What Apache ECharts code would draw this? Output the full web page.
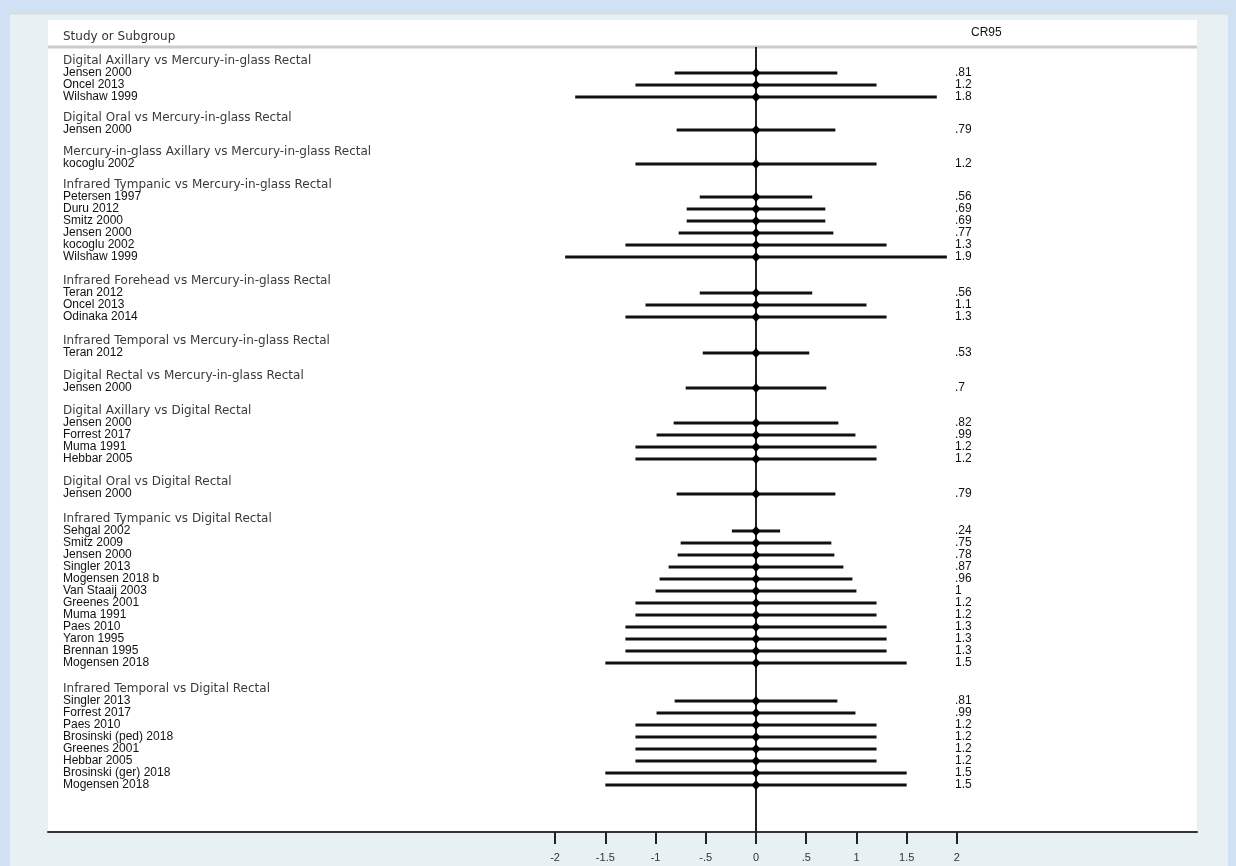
<!DOCTYPE html>
<html>
<head>
<meta charset="utf-8">
<script src="https://cdn.jsdelivr.net/npm/echarts@6/dist/echarts.min.js"></script>
<style>
html,body{margin:0;padding:0;background:#cfe1f3;}
#chart{width:1236px;height:866px;}
</style>
</head>
<body>
<div id="chart"></div>
<script>
// ---- data ----
const groupTitles = [
  'Digital Axillary vs Mercury-in-glass Rectal',
  'Digital Oral vs Mercury-in-glass Rectal',
  'Mercury-in-glass Axillary vs Mercury-in-glass Rectal',
  'Infrared Tympanic vs Mercury-in-glass Rectal',
  'Infrared Forehead vs Mercury-in-glass Rectal',
  'Infrared Temporal vs Mercury-in-glass Rectal',
  'Digital Rectal vs Mercury-in-glass Rectal',
  'Digital Axillary vs Digital Rectal',
  'Digital Oral vs Digital Rectal',
  'Infrared Tympanic vs Digital Rectal',
  'Infrared Temporal vs Digital Rectal'
];
const groupSizes = [3, 1, 1, 6, 3, 1, 1, 4, 1, 12, 8];
const studies = [
  'Jensen 2000', 'Oncel 2013', 'Wilshaw 1999',
  'Jensen 2000',
  'kocoglu 2002',
  'Petersen 1997', 'Duru 2012', 'Smitz 2000', 'Jensen 2000', 'kocoglu 2002', 'Wilshaw 1999',
  'Teran 2012', 'Oncel 2013', 'Odinaka 2014',
  'Teran 2012',
  'Jensen 2000',
  'Jensen 2000', 'Forrest 2017', 'Muma 1991', 'Hebbar 2005',
  'Jensen 2000',
  'Sehgal 2002', 'Smitz 2009', 'Jensen 2000', 'Singler 2013', 'Mogensen 2018 b', 'Van Staaij 2003',
  'Greenes 2001', 'Muma 1991', 'Paes 2010', 'Yaron 1995', 'Brennan 1995', 'Mogensen 2018',
  'Singler 2013', 'Forrest 2017', 'Paes 2010', 'Brosinski (ped) 2018', 'Greenes 2001', 'Hebbar 2005',
  'Brosinski (ger) 2018', 'Mogensen 2018'
];
const cr95 = [
  0.81, 1.2, 1.8,
  0.79,
  1.2,
  0.56, 0.69, 0.69, 0.77, 1.3, 1.9,
  0.56, 1.1, 1.3,
  0.53,
  0.7,
  0.82, 0.99, 1.2, 1.2,
  0.79,
  0.24, 0.75, 0.78, 0.87, 0.96, 1, 1.2, 1.2, 1.3, 1.3, 1.3, 1.5,
  0.81, 0.99, 1.2, 1.2, 1.2, 1.2, 1.5, 1.5
];
const xTicks = [-2, -1.5, -1, -0.5, 0, 0.5, 1, 1.5, 2];
const headerLeft = 'Study or Subgroup';
const headerRight = 'CR95';

// ---- layout (rows of 12px) ----
const ROW = 12, GRID_TOP = 47, GRID_BOTTOM_Y = 832, GRID_LEFT = 48, GRID_RIGHT_X = 1197;
const ZERO_X = 756, PX_PER_UNIT = 100.45;
const FIRST_HEADER_PX = 61;
// blank space (px) between the last study of a group and the next group heading
const groupGapPx = [21, 22, 21, 24, 24, 23, 23, 23, 25, 26];
const yMax = (GRID_BOTTOM_Y - GRID_TOP) / ROW;
const xMin = -(ZERO_X - GRID_LEFT) / PX_PER_UNIT;
const xMax = (GRID_RIGHT_X - ZERO_X) / PX_PER_UNIT;

const headerData = [], studyData = [];
let pos = (FIRST_HEADER_PX - GRID_TOP) / ROW, k = 0;
groupSizes.forEach((n, g) => {
  if (g > 0) pos += groupGapPx[g - 1] / ROW - 1;
  headerData.push([0, pos, g]);
  pos += 1;
  for (let i = 0; i < n; i++) { studyData.push([cr95[k], pos, k]); k++; pos += 1; }
});

function fmt(v) { return String(v).replace(/^(-?)0\./, '$1.'); }

const chart = echarts.init(document.getElementById('chart'), null, {renderer: 'canvas'});
chart.setOption({
  animation: false,
  backgroundColor: '#cfe1f3',
  graphic: [
    {type: 'rect', shape: {x: 10, y: 13, width: 1218, height: 860}, style: {fill: '#e7f0f2'}, z: -10},
    {type: 'line', shape: {x1: 10, y1: 13.5, x2: 1228, y2: 13.5}, style: {stroke: '#d8dcdc', lineWidth: 2}, z: -9},
    {type: 'rect', shape: {x: GRID_LEFT, y: 20, width: GRID_RIGHT_X - GRID_LEFT, height: GRID_BOTTOM_Y - 20}, style: {fill: '#ffffff'}, z: -8},
    {type: 'line', shape: {x1: GRID_LEFT, y1: 47, x2: GRID_RIGHT_X, y2: 47}, style: {stroke: '#cccccc', lineWidth: 3}, z: -7},
    {type: 'text', x: 63, y: 37, style: {text: headerLeft, font: '12px "DejaVu Sans"', fill: '#333', verticalAlign: 'middle'}},
    {type: 'text', x: 971, y: 33, style: {text: headerRight, font: '12px "Liberation Sans", Arial', fill: '#111', verticalAlign: 'middle'}}
  ],
  grid: {left: GRID_LEFT, right: 1236 - GRID_RIGHT_X, top: GRID_TOP, bottom: 866 - GRID_BOTTOM_Y, containLabel: false},
  xAxis: {
    type: 'value', min: xMin, max: xMax, position: 'bottom',
    splitLine: {show: false},
    axisLine: {show: true, onZero: false, lineStyle: {color: '#333', width: 2}},
    axisTick: {show: true, inside: false, length: 12, customValues: xTicks, lineStyle: {color: '#222', width: 2}},
    axisLabel: {customValues: xTicks, formatter: v => fmt(v), margin: 20, color: '#333',
      fontFamily: '"Liberation Sans", Arial', fontSize: 11}
  },
  yAxis: {type: 'value', inverse: true, min: 0, max: yMax, show: false, splitLine: {show: false}},
  series: [
    {
      type: 'line', data: [[0, 0], [0, yMax]], symbol: 'none', silent: true,
      lineStyle: {color: '#222', width: 2}, z: 1
    },
    {
      type: 'custom', z: 2,
      data: studyData,
      renderItem: function (params, api) {
        const ci = api.value(0), y = api.value(1), idx = api.value(2);
        const a = api.coord([-ci, y]), b = api.coord([ci, y]), c = api.coord([0, y]);
        const cs = params.coordSys;
        return {
          type: 'group',
          children: [
            {type: 'line', shape: {x1: a[0], y1: a[1], x2: b[0], y2: b[1]}, style: {stroke: '#111', lineWidth: 3}},
            {type: 'polygon', shape: {points: [[c[0] - 4.5, c[1]], [c[0], c[1] - 5], [c[0] + 4.5, c[1]], [c[0], c[1] + 5]]}, style: {fill: '#000'}},
            {type: 'text', x: cs.x + 15, y: c[1], style: {text: studies[idx], font: '12px "Liberation Sans", Arial', fill: '#111', verticalAlign: 'middle'}},
            {type: 'text', x: cs.x + 907, y: c[1], style: {text: fmt(cr95[idx]), font: '12px "Liberation Sans", Arial', fill: '#111', verticalAlign: 'middle'}}
          ]
        };
      }
    },
    {
      type: 'custom', z: 2,
      data: headerData,
      renderItem: function (params, api) {
        const y = api.value(1), g = api.value(2);
        const c = api.coord([0, y]);
        return {type: 'text', x: params.coordSys.x + 15, y: c[1],
          style: {text: groupTitles[g], font: '12px "DejaVu Sans"', fill: '#3a3a3a', verticalAlign: 'middle'}};
      }
    }
  ]
});
</script>
</body>
</html>
